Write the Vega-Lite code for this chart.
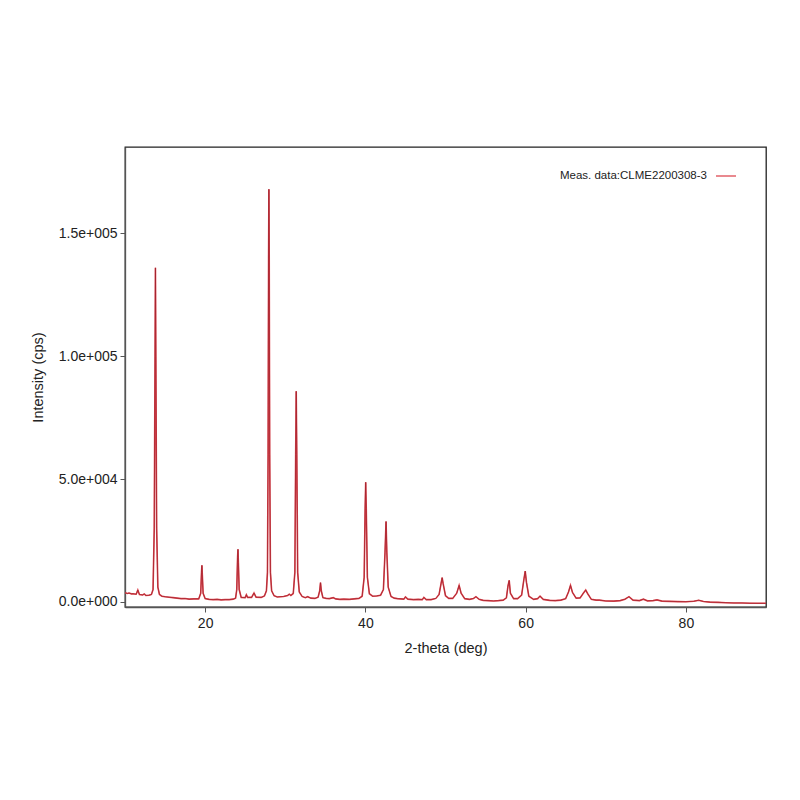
{
  "$schema": "https://vega.github.io/schema/vega-lite/v6.json",
  "autosize": "none",
  "width": 641,
  "height": 460,
  "padding": {"left": 125, "top": 147, "right": 34, "bottom": 193},
  "background": "white",
  "config": {
    "font": "Liberation Sans",
    "view": {"stroke": "#222", "strokeWidth": 1.3}
  },
  "data": {"values": [
    {"t":10.0,"i":3700},{"t":10.3,"i":3400},{"t":10.5,"i":3600},{"t":10.8,"i":3250},{"t":11.0,"i":3300},{"t":11.4,"i":3100},{"t":11.6,"i":4800},{"t":11.8,"i":3000},
    {"t":12.2,"i":2800},{"t":12.4,"i":3200},{"t":12.6,"i":2600},{"t":13.0,"i":2700},{"t":13.3,"i":3000},{"t":13.5,"i":5000},{"t":13.65,"i":30000},
    {"t":13.75,"i":100000},{"t":13.8,"i":136000},{"t":13.85,"i":100000},{"t":13.95,"i":30000},{"t":14.1,"i":6000},{"t":14.3,"i":3000},{"t":14.6,"i":2300},
    {"t":15.0,"i":2100},{"t":15.5,"i":1900},{"t":16.0,"i":1700},{"t":16.5,"i":1500},{"t":17.0,"i":1300},{"t":17.5,"i":1350},{"t":18.0,"i":1100},{"t":18.6,"i":1200},{"t":19.2,"i":1200},{"t":19.45,"i":3500},
    {"t":19.55,"i":12000},{"t":19.6,"i":14850},{"t":19.65,"i":11000},{"t":19.75,"i":3500},{"t":20.0,"i":1300},{"t":20.5,"i":1000},{"t":21.0,"i":900},{"t":21.5,"i":1000},
    {"t":22.0,"i":800},{"t":22.5,"i":900},{"t":23.0,"i":900},{"t":23.5,"i":1100},{"t":23.8,"i":1500},{"t":23.95,"i":5000},{"t":24.05,"i":18000},{"t":24.1,"i":21400},
    {"t":24.15,"i":16000},{"t":24.25,"i":5000},{"t":24.5,"i":1800},{"t":25.0,"i":1700},{"t":25.15,"i":2900},{"t":25.3,"i":1800},
    {"t":25.8,"i":1800},{"t":26.1,"i":3600},{"t":26.35,"i":1900},{"t":27.0,"i":1800},{"t":27.4,"i":2400},{"t":27.65,"i":4500},{"t":27.78,"i":12000},
    {"t":27.86,"i":60000},{"t":27.92,"i":140000},{"t":27.96,"i":168000},{"t":28.0,"i":140000},{"t":28.06,"i":60000},{"t":28.15,"i":12000},
    {"t":28.3,"i":4500},{"t":28.6,"i":2500},{"t":29.0,"i":2000},{"t":29.4,"i":2100},{"t":29.8,"i":2200},{"t":30.3,"i":2600},{"t":30.5,"i":3100},{"t":30.7,"i":2600},
    {"t":31.0,"i":3400},{"t":31.2,"i":12000},{"t":31.3,"i":60000},{"t":31.37,"i":85750},{"t":31.44,"i":60000},{"t":31.55,"i":12000},
    {"t":31.75,"i":4000},{"t":32.1,"i":2200},{"t":32.5,"i":1700},{"t":32.8,"i":2100},{"t":33.2,"i":1500},{"t":33.7,"i":1400},{"t":34.1,"i":1900},{"t":34.3,"i":4500},
    {"t":34.4,"i":7800},{"t":34.5,"i":4500},{"t":34.7,"i":1700},{"t":35.1,"i":1400},{"t":35.5,"i":1300},{"t":36.0,"i":1700},{"t":36.3,"i":1200},
    {"t":36.8,"i":1000},{"t":37.3,"i":1100},{"t":38.0,"i":1000},{"t":38.6,"i":1200},{"t":39.2,"i":1400},{"t":39.6,"i":2300},{"t":39.85,"i":10000},{"t":39.97,"i":38000},
    {"t":40.04,"i":48700},{"t":40.11,"i":38000},{"t":40.25,"i":10000},{"t":40.5,"i":3300},{"t":40.9,"i":2300},{"t":41.4,"i":2400},{"t":41.9,"i":2700},
    {"t":42.25,"i":5000},{"t":42.45,"i":20000},{"t":42.58,"i":32750},{"t":42.68,"i":20000},{"t":42.85,"i":6000},{"t":43.2,"i":2200},
    {"t":43.6,"i":1500},{"t":44.0,"i":1300},{"t":44.8,"i":1100},{"t":45.0,"i":2000},{"t":45.3,"i":1100},{"t":46.0,"i":900},{"t":46.6,"i":1000},{"t":47.1,"i":900},
    {"t":47.3,"i":1800},{"t":47.6,"i":900},{"t":48.2,"i":900},{"t":48.8,"i":1400},{"t":49.2,"i":3000},{"t":49.45,"i":7500},{"t":49.58,"i":9850},
    {"t":49.7,"i":7500},{"t":50.0,"i":2500},{"t":50.4,"i":1400},{"t":50.9,"i":1400},{"t":51.4,"i":3500},{"t":51.7,"i":6700},{"t":51.95,"i":3500},
    {"t":52.4,"i":1300},{"t":53.0,"i":1000},{"t":53.5,"i":1400},{"t":53.8,"i":2100},{"t":54.2,"i":1000},{"t":54.7,"i":600},{"t":55.3,"i":500},{"t":56.0,"i":350},
    {"t":56.6,"i":500},{"t":57.2,"i":700},{"t":57.6,"i":1600},{"t":57.8,"i":6500},{"t":57.95,"i":8750},{"t":58.1,"i":3500},{"t":58.5,"i":1300},
    {"t":59.0,"i":1300},{"t":59.5,"i":2700},{"t":59.8,"i":9500},{"t":59.95,"i":12500},{"t":60.1,"i":8000},{"t":60.4,"i":2300},{"t":61.0,"i":1000},
    {"t":61.5,"i":1300},{"t":61.8,"i":2350},{"t":62.2,"i":1000},{"t":63.0,"i":600},{"t":63.7,"i":500},{"t":64.4,"i":700},{"t":65.0,"i":1300},{"t":65.35,"i":4000},
    {"t":65.6,"i":6700},{"t":65.85,"i":3800},{"t":66.3,"i":1500},{"t":66.8,"i":1600},{"t":67.2,"i":3500},{"t":67.5,"i":4800},
    {"t":67.75,"i":3300},{"t":68.2,"i":1000},{"t":68.8,"i":700},{"t":69.2,"i":700},{"t":70.0,"i":350},{"t":71.0,"i":300},{"t":71.8,"i":500},{"t":72.4,"i":1100},
    {"t":72.9,"i":2100},{"t":73.4,"i":700},{"t":74.2,"i":500},{"t":74.7,"i":1100},{"t":75.2,"i":400},{"t":75.9,"i":500},{"t":76.4,"i":800},
    {"t":77.0,"i":300},{"t":78.0,"i":200},{"t":79.0,"i":100},{"t":80.0,"i":50},{"t":81.0,"i":250},{"t":81.6,"i":650},
    {"t":82.2,"i":150},{"t":83.0,"i":-100},{"t":84.0,"i":-200},{"t":85.0,"i":-350},{"t":86.0,"i":-450},{"t":87.0,"i":-450},
    {"t":88.0,"i":-550},{"t":89.0,"i":-600},{"t":90.0,"i":-600}
  ]},
  "encoding": {
    "x": {
      "field": "t", "type": "quantitative",
      "scale": {"domain": [10, 90], "nice": false, "zero": false},
      "axis": {
        "title": "2-theta (deg)", "values": [20, 40, 60, 80], "grid": false,
        "tickSize": 5, "tickColor": "#555", "domainColor": "#555", "domainWidth": 1.3,
        "labelFontSize": 14, "labelColor": "#222", "labelPadding": 4,
        "titleFontSize": 14.5, "titleFontWeight": "normal", "titleColor": "#222", "titlePadding": 11
      }
    },
    "y": {
      "field": "i", "type": "quantitative",
      "scale": {"domain": [-2100, 185200], "nice": false, "zero": false},
      "axis": {
        "title": "Intensity (cps)", "values": [0, 50000, 100000, 150000], "grid": false,
        "labelExpr": "datum.value == 0 ? '0.0e+000' : datum.value == 50000 ? '5.0e+004' : datum.value == 100000 ? '1.0e+005' : '1.5e+005'",
        "tickSize": 5, "tickColor": "#555", "domainColor": "#555", "domainWidth": 1.3,
        "labelFontSize": 14, "labelColor": "#222", "labelPadding": 3,
        "titleFontSize": 14.5, "titleFontWeight": "normal", "titleColor": "#222", "titlePadding": 13
      }
    }
  },
  "layer": [
    {
      "mark": {"type": "line", "strokeWidth": 1.6, "clip": true},
      "encoding": {
        "color": {
          "datum": "Meas. data:CLME2200308-3", "type": "nominal",
          "scale": {"range": ["#de4a52"]},
          "legend": {
            "title": null, "orient": "none", "legendX": 590, "legendY": 18,
            "symbolType": "stroke", "symbolSize": 400, "symbolStrokeWidth": 1.3,
            "labelAlign": "right", "labelOffset": -30, "labelFontSize": 11.5, "labelColor": "#222",
            "labelLimit": 300
          }
        }
      }
    },
    {
      "mark": {"type": "line", "strokeWidth": 0.7, "color": "#9e1e2a", "clip": true}
    }
  ]
}
